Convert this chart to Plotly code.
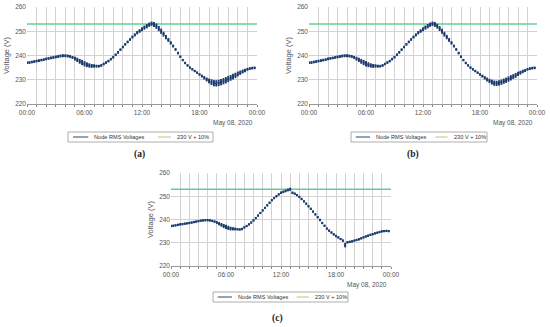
import pandas as pd
import plotly.graph_objects as go

# ---------------- data ----------------
times = pd.date_range("2020-05-08 00:00", periods=96, freq="15min")
day_span = ["2020-05-08 00:00", "2020-05-09 00:00"]
limit_v = [253, 253]          # 230 V + 10 %

voltage_ab_mid = [
    237.0, 237.1, 237.3, 237.5, 237.7, 237.9, 238.1, 238.3,
    238.6, 238.8, 239.0, 239.2, 239.4, 239.6, 239.8, 239.9,
    239.9, 239.8, 239.6, 239.2, 238.7, 238.2, 237.6, 237.1,
    236.6, 236.2, 235.9, 235.7, 235.7, 235.6, 235.6, 235.9,
    236.5, 237.1, 237.7, 238.5, 239.3, 240.3, 241.3, 242.4,
    243.5, 244.6, 245.6, 246.6, 247.6, 248.5, 249.4, 250.1,
    250.8, 251.5, 252.1, 252.7, 253.1, 252.8, 252.1, 251.1,
    250.0, 248.8, 247.6, 246.4, 245.2, 243.9, 242.5, 241.0,
    239.5, 238.1, 236.9, 235.9, 235.0, 234.3, 233.6, 232.9,
    232.2, 231.5, 230.8, 230.1, 229.5, 229.0, 228.6, 228.5,
    228.7, 229.0, 229.4, 229.8, 230.3, 230.8, 231.3, 231.8,
    232.4, 232.9, 233.4, 233.8, 234.3, 234.6, 234.8, 234.9,
]
spread_a = [
    0.55, 0.55, 0.55, 0.55, 0.55, 0.55, 0.55, 0.55, 0.55, 0.55, 0.55, 0.55,
    0.6, 0.6, 0.6, 0.6, 0.6, 0.6, 0.6, 0.6,
    0.8, 0.9, 1.0, 1.1, 1.1, 1.0, 0.9, 0.8,
    0.7, 0.6, 0.55, 0.55,
    0.55, 0.55, 0.55, 0.55, 0.55, 0.55, 0.55, 0.55, 0.55, 0.55, 0.55, 0.55,
    0.6, 0.65, 0.7, 0.75, 0.8, 0.85, 0.9, 0.9,
    0.9, 1.0, 1.1, 1.1, 1.1, 1.0, 0.9, 0.8,
    0.7, 0.6, 0.55, 0.55, 0.5, 0.5, 0.5, 0.5,
    0.5, 0.5, 0.5, 0.5, 0.5, 0.6, 0.7, 0.8,
    1.0, 1.2, 1.3, 1.3, 1.3, 1.3, 1.3, 1.3,
    1.3, 1.2, 1.2, 1.1, 1.0, 0.9, 0.8, 0.7,
    0.6, 0.55, 0.55, 0.55,
]
spread_b = [
    0.55, 0.55, 0.55, 0.55, 0.55, 0.55, 0.55, 0.55, 0.55, 0.55, 0.55, 0.55,
    0.6, 0.6, 0.6, 0.6, 0.6, 0.6, 0.6, 0.6,
    0.8, 0.9, 1.0, 1.1, 1.1, 1.0, 0.9, 0.8,
    0.7, 0.6, 0.55, 0.55,
    0.55, 0.55, 0.55, 0.55, 0.55, 0.55, 0.55, 0.55, 0.55, 0.55, 0.55, 0.55,
    0.6, 0.65, 0.7, 0.75, 0.8, 0.85, 0.9, 0.9,
    0.9, 1.0, 1.0, 1.0, 1.0, 1.0, 0.9, 0.8,
    0.7, 0.6, 0.55, 0.55, 0.5, 0.5, 0.5, 0.5,
    0.5, 0.5, 0.5, 0.5, 0.5, 0.6, 0.7, 0.8,
    0.9, 1.0, 1.1, 1.1, 1.1, 1.1, 1.1, 1.1,
    1.1, 1.1, 1.0, 1.0, 0.9, 0.8, 0.7, 0.6,
    0.55, 0.55, 0.55, 0.55,
]
voltage_c_mid = [
    237.2, 237.3, 237.5, 237.7, 237.9, 238.0, 238.2, 238.3,
    238.5, 238.7, 238.9, 239.1, 239.3, 239.5, 239.6, 239.7,
    239.7, 239.6, 239.4, 239.1, 238.7, 238.2, 237.7, 237.2,
    236.8, 236.4, 236.1, 236.0, 235.9, 235.8, 235.7, 235.9,
    236.6, 237.2, 237.9, 238.7, 239.6, 240.6, 241.7, 242.8,
    243.9, 245.0, 246.1, 247.2, 248.3, 249.2, 250.0, 250.8,
    251.5, 251.9, 252.3, 252.7, 253.0, 251.5, 251.1, 250.5,
    249.7, 248.8, 247.8, 246.8, 245.7, 244.6, 243.4, 242.2,
    241.0, 239.8, 238.5, 237.3, 236.1, 235.2, 234.4, 233.6,
    232.9, 232.3, 231.6, 230.9, 229.0, 230.2, 230.4, 230.6,
    230.9, 231.2, 231.5, 231.9, 232.3, 232.7, 233.0, 233.4,
    233.7, 234.0, 234.3, 234.6, 234.9, 235.0, 235.1, 235.0,
]
spread_c = [
    0.5, 0.5, 0.5, 0.5, 0.5, 0.5, 0.5, 0.5, 0.5, 0.5, 0.5, 0.5,
    0.5, 0.5, 0.5, 0.5, 0.5, 0.5, 0.5, 0.5,
    0.6, 0.7, 0.8, 0.9, 0.9, 0.9, 0.8, 0.7,
    0.6, 0.5, 0.5, 0.5,
    0.5, 0.5, 0.5, 0.5, 0.5, 0.5, 0.5, 0.5, 0.5, 0.5, 0.5, 0.5,
    0.5, 0.5, 0.5, 0.5, 0.5, 0.55, 0.6, 0.6,
    0.7, 0.55, 0.5, 0.5, 0.5, 0.5, 0.5, 0.5,
    0.5, 0.5, 0.5, 0.5, 0.5, 0.5, 0.5, 0.5,
    0.5, 0.5, 0.5, 0.5, 0.5, 0.5, 0.5, 0.55,
    1.0, 0.55, 0.5, 0.5, 0.5, 0.5, 0.5, 0.5,
    0.5, 0.5, 0.5, 0.5, 0.5, 0.5, 0.5, 0.5,
    0.5, 0.5, 0.5, 0.5,
]

series_names = ["Node RMS Voltages", "230 V + 10%"]
panel_labels = ["(a)", "(b)", "(c)"]
date_label = "May 08, 2020"
y_title = "Voltage (V)"

# ---------------- layout helpers (pixel boxes) ----------------
W, H = 550, 327
def px(x):
    return x / W
def py(y):
    return 1 - y / H

NAVY = "#1b3a6e"
GREEN = "#63cf98"
GRID = "#d2d2d2"
TXT = "#555555"
FONT = "Liberation Sans, Arial, sans-serif"

panels = [
    dict(mid=voltage_ab_mid, spread=spread_a, box=(27, 257, 7, 104),
         legend=(68, 213, 132, 142), label=(139, 154)),
    dict(mid=voltage_ab_mid, spread=spread_b, box=(309, 537, 7, 104),
         legend=(351, 487, 132, 142), label=(413, 154)),
    dict(mid=voltage_c_mid, spread=spread_c, box=(171, 391, 173, 266),
         legend=(213, 348, 292, 302), label=(277, 318)),
]

fig = go.Figure()
shapes = []
annotations = []
layout_axes = {}

for i, p in enumerate(panels, start=1):
    sfx = "" if i == 1 else str(i)
    xa, ya = "x" + sfx, "y" + sfx
    x0, x1, y0, y1 = p["box"]

    fig.add_trace(go.Scatter(
        x=day_span, y=limit_v, xaxis=xa, yaxis=ya, mode="lines",
        line=dict(color=GREEN, width=1.7), name=series_names[1],
        showlegend=False, hoverinfo="skip"))
    fig.add_trace(go.Scatter(
        x=times, y=p["mid"], xaxis=xa, yaxis=ya, mode="markers",
        marker=dict(symbol="square", size=1.8, color=NAVY),
        error_y=dict(type="data", array=p["spread"], visible=True,
                     width=0, thickness=1.9, color=NAVY),
        name=series_names[0], showlegend=False))

    layout_axes["xaxis" + sfx] = dict(
        domain=[px(x0), px(x1)], anchor=ya, type="date", range=day_span,
        tick0="2020-05-08", dtick=6 * 3600000, tickformat="%H:%M",
        showgrid=True, gridcolor=GRID, gridwidth=1,
        ticks="outside", ticklen=2, tickcolor="#888888",
        minor=dict(dtick=3600000, showgrid=True, gridcolor=GRID,
                   ticks="outside", ticklen=2, tickcolor="#888888"),
        showline=True, linecolor="#999999", linewidth=1,
        tickfont=dict(size=6.5, color=TXT, family=FONT),
        zeroline=False, fixedrange=True, automargin=False)
    layout_axes["yaxis" + sfx] = dict(
        domain=[py(y1), py(y0)], anchor=xa, range=[220, 260], dtick=10,
        showgrid=True, gridcolor=GRID, gridwidth=1, zeroline=False,
        ticks="", tickfont=dict(size=6.5, color=TXT, family=FONT),
        title=dict(text=y_title, standoff=4,
                   font=dict(size=7.5, color=TXT, family=FONT)),
        fixedrange=True, automargin=False)

    # date annotation under right end
    annotations.append(dict(
        x=px(x1 - 2), y=py(y1 + 19), xref="paper", yref="paper",
        xanchor="right", yanchor="middle", showarrow=False,
        text=date_label, font=dict(size=6.5, color=TXT, family=FONT)))

    # legend box
    lx0, lx1, ly0, ly1 = p["legend"]
    ym = (ly0 + ly1) / 2
    shapes.append(dict(type="rect", xref="paper", yref="paper",
                       x0=px(lx0), x1=px(lx1), y0=py(ly1), y1=py(ly0),
                       line=dict(color="#9a9a9a", width=0.8), fillcolor="white"))
    wL = lx1 - lx0
    s1a = lx0 + 0.035 * wL
    s1b = lx0 + 0.14 * wL
    shapes.append(dict(type="line", xref="paper", yref="paper",
                       x0=px(s1a), x1=px(s1b), y0=py(ym), y1=py(ym),
                       line=dict(color="#4a6688", width=1.2)))
    annotations.append(dict(x=px(s1b + 4), y=py(ym), xref="paper", yref="paper",
                            xanchor="left", yanchor="middle", showarrow=False,
                            text=series_names[0],
                            font=dict(size=5.6, color="#333333", family=FONT)))
    s2a = lx0 + 0.62 * wL
    s2b = lx0 + 0.71 * wL
    shapes.append(dict(type="line", xref="paper", yref="paper",
                       x0=px(s2a), x1=px(s2b), y0=py(ym), y1=py(ym),
                       line=dict(color="#c6d488", width=1.2)))
    annotations.append(dict(x=px(s2b + 4), y=py(ym), xref="paper", yref="paper",
                            xanchor="left", yanchor="middle", showarrow=False,
                            text=series_names[1],
                            font=dict(size=5.6, color="#333333", family=FONT)))

    # panel label
    lx, ly = p["label"]
    annotations.append(dict(x=px(lx), y=py(ly), xref="paper", yref="paper",
                            xanchor="center", yanchor="middle", showarrow=False,
                            text="<b>" + panel_labels[i - 1] + "</b>",
                            font=dict(size=9.5, color="#222222",
                                      family="Liberation Serif, serif")))

fig.update_layout(
    width=W, height=H, margin=dict(l=0, r=0, t=0, b=0),
    paper_bgcolor="white", plot_bgcolor="white", showlegend=False,
    shapes=shapes, annotations=annotations, **layout_axes)

fig.write_html("out.html",
               config={"displayModeBar": False},
               post_script="document.body.style.margin='0';"
                           "document.body.style.overflow='hidden';")
